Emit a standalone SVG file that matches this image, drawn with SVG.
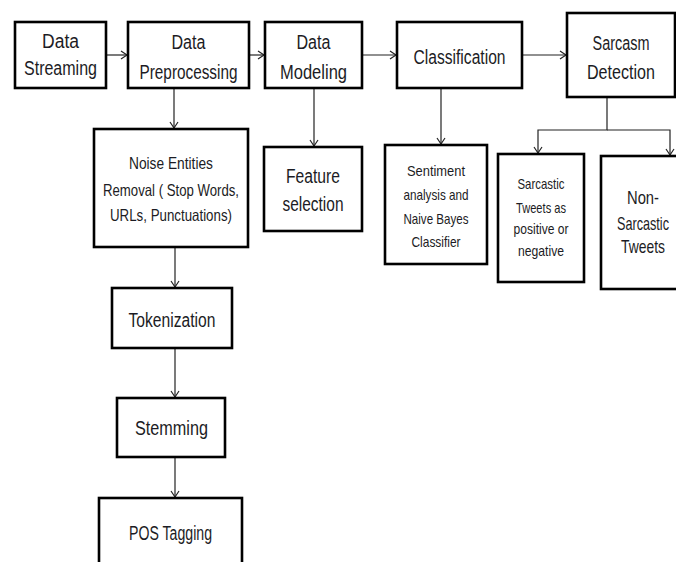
<svg xmlns="http://www.w3.org/2000/svg" width="676" height="562" viewBox="0 0 676 562">
  <style>
    .box { fill: #ffffff; stroke: #000000; stroke-width: 2.6; }
    .link { fill: none; stroke: #222222; stroke-width: 1.2; }
    text { font-family: "Liberation Sans", Arial, sans-serif; fill: #1c1c24; text-anchor: middle; }
    .t20 { font-size: 20px; }
    .t19 { font-size: 19px; }
    .t17 { font-size: 16.5px; }
    .t15 { font-size: 14.5px; }
  </style>
  <defs>
    <marker id="arrow" markerWidth="10" markerHeight="10" refX="7" refY="5" orient="auto" markerUnits="userSpaceOnUse">
      <path d="M1,1 L7,5 L1,9" fill="none" stroke="#222222" stroke-width="1.2"/>
    </marker>
  </defs>
  <rect width="676" height="562" fill="#ffffff"/>

  <!-- connectors -->
  <g id="connectors">
    <line class="link" x1="106" y1="55" x2="127" y2="55" marker-end="url(#arrow)"/>
    <line class="link" x1="249" y1="55" x2="264" y2="55" marker-end="url(#arrow)"/>
    <line class="link" x1="362" y1="55" x2="396" y2="55" marker-end="url(#arrow)"/>
    <line class="link" x1="522" y1="55" x2="566" y2="55" marker-end="url(#arrow)"/>
    <line class="link" x1="174" y1="88" x2="174" y2="128" marker-end="url(#arrow)"/>
    <line class="link" x1="314" y1="88" x2="314" y2="146" marker-end="url(#arrow)"/>
    <line class="link" x1="441" y1="88" x2="441" y2="144" marker-end="url(#arrow)"/>
    <polyline class="link" points="607,97 607,130 538,130 538,153" marker-end="url(#arrow)"/>
    <polyline class="link" points="607,130 670,130 670,155" marker-end="url(#arrow)"/>
    <line class="link" x1="175" y1="247" x2="175" y2="287" marker-end="url(#arrow)"/>
    <line class="link" x1="175" y1="348" x2="175" y2="397" marker-end="url(#arrow)"/>
    <line class="link" x1="175" y1="457" x2="175" y2="497" marker-end="url(#arrow)"/>
  </g>

  <g id="data-streaming">
    <rect class="box" x="15" y="22" width="91" height="66"/>
    <text class="t20" x="60.5" y="48" textLength="37" lengthAdjust="spacingAndGlyphs">Data</text>
    <text class="t20" x="60.5" y="75" textLength="73" lengthAdjust="spacingAndGlyphs">Streaming</text>
  </g>

  <g id="data-preprocessing">
    <rect class="box" x="128" y="22" width="121" height="66"/>
    <text class="t20" x="188.5" y="49" textLength="34" lengthAdjust="spacingAndGlyphs">Data</text>
    <text class="t20" x="188.5" y="79" textLength="98" lengthAdjust="spacingAndGlyphs">Preprocessing</text>
  </g>

  <g id="data-modeling">
    <rect class="box" x="265" y="22" width="97" height="66"/>
    <text class="t20" x="313.5" y="49" textLength="34" lengthAdjust="spacingAndGlyphs">Data</text>
    <text class="t20" x="313.5" y="79" textLength="67" lengthAdjust="spacingAndGlyphs">Modeling</text>
  </g>

  <g id="classification">
    <rect class="box" x="397" y="22" width="125" height="66"/>
    <text class="t20" x="459.5" y="64" textLength="92" lengthAdjust="spacingAndGlyphs">Classification</text>
  </g>

  <g id="sarcasm-detection">
    <rect class="box" x="567" y="13" width="108" height="84"/>
    <text class="t20" x="621" y="50" textLength="57" lengthAdjust="spacingAndGlyphs">Sarcasm</text>
    <text class="t20" x="621" y="79" textLength="68" lengthAdjust="spacingAndGlyphs">Detection</text>
  </g>

  <g id="noise-removal">
    <rect class="box" x="94" y="129" width="154" height="118"/>
    <text class="t17" x="171" y="169" textLength="84" lengthAdjust="spacingAndGlyphs">Noise Entities</text>
    <text class="t17" x="171" y="196" textLength="136" lengthAdjust="spacingAndGlyphs">Removal ( Stop Words,</text>
    <text class="t17" x="171" y="221" textLength="122" lengthAdjust="spacingAndGlyphs">URLs, Punctuations)</text>
  </g>

  <g id="feature-selection">
    <rect class="box" x="264" y="147" width="98" height="84"/>
    <text class="t20" x="313" y="183" textLength="54" lengthAdjust="spacingAndGlyphs">Feature</text>
    <text class="t20" x="313" y="211" textLength="61" lengthAdjust="spacingAndGlyphs">selection</text>
  </g>

  <g id="sentiment-naive-bayes">
    <rect class="box" x="385" y="145" width="102" height="119"/>
    <text class="t15" x="436" y="176" textLength="58" lengthAdjust="spacingAndGlyphs">Sentiment</text>
    <text class="t15" x="436" y="200" textLength="65" lengthAdjust="spacingAndGlyphs">analysis and</text>
    <text class="t15" x="436" y="224" textLength="65" lengthAdjust="spacingAndGlyphs">Naive Bayes</text>
    <text class="t15" x="436" y="247" textLength="49" lengthAdjust="spacingAndGlyphs">Classifier</text>
  </g>

  <g id="sarcastic-tweets">
    <rect class="box" x="498" y="154" width="86" height="128"/>
    <text class="t15" x="541" y="189" textLength="47" lengthAdjust="spacingAndGlyphs">Sarcastic</text>
    <text class="t15" x="541" y="213" textLength="50" lengthAdjust="spacingAndGlyphs">Tweets as</text>
    <text class="t15" x="541" y="234" textLength="55" lengthAdjust="spacingAndGlyphs">positive or</text>
    <text class="t15" x="541" y="256" textLength="46" lengthAdjust="spacingAndGlyphs">negative</text>
  </g>

  <g id="non-sarcastic-tweets">
    <rect class="box" x="601" y="156" width="95" height="133"/>
    <text class="t19" x="643" y="204" textLength="32" lengthAdjust="spacingAndGlyphs">Non-</text>
    <text class="t19" x="643" y="230" textLength="52" lengthAdjust="spacingAndGlyphs">Sarcastic</text>
    <text class="t19" x="643" y="253" textLength="44" lengthAdjust="spacingAndGlyphs">Tweets</text>
  </g>

  <g id="tokenization">
    <rect class="box" x="112" y="288" width="120" height="60"/>
    <text class="t20" x="172" y="327" textLength="87" lengthAdjust="spacingAndGlyphs">Tokenization</text>
  </g>

  <g id="stemming">
    <rect class="box" x="117" y="398" width="108" height="59"/>
    <text class="t20" x="171.5" y="435" textLength="73" lengthAdjust="spacingAndGlyphs">Stemming</text>
  </g>

  <g id="pos-tagging">
    <rect class="box" x="99" y="498" width="143" height="90"/>
    <text class="t20" x="170.5" y="540" textLength="83" lengthAdjust="spacingAndGlyphs">POS Tagging</text>
  </g>
</svg>
